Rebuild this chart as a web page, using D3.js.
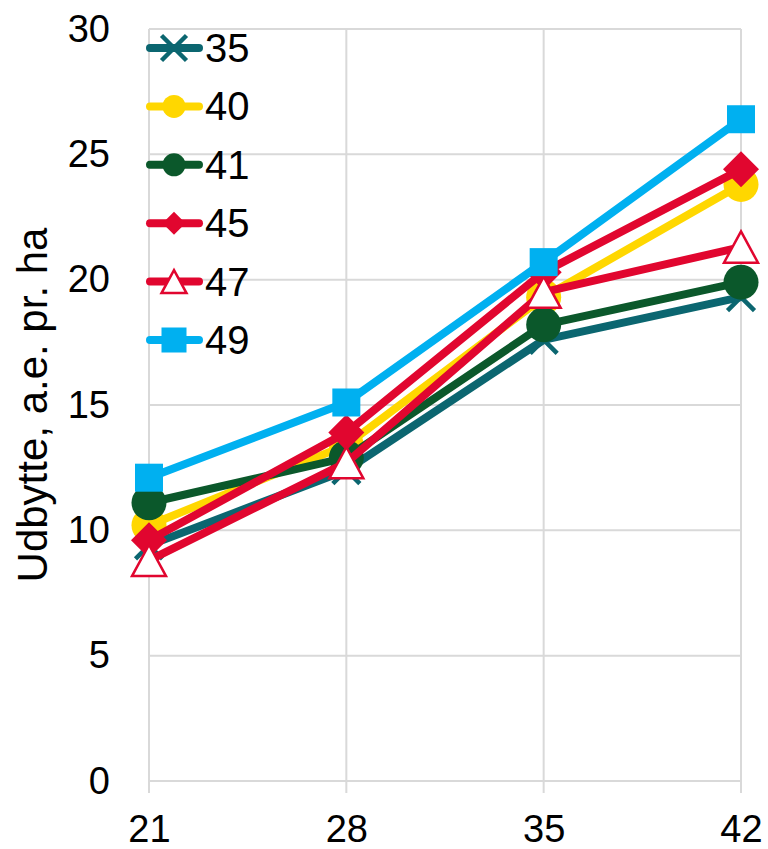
<!DOCTYPE html>
<html>
<head>
<meta charset="utf-8">
<script src="https://cdn.jsdelivr.net/npm/d3@7"></script>
<style>
  html, body { margin: 0; padding: 0; background: #fff; }
  svg text { font-family: "Liberation Sans", Arial, sans-serif; fill: #000; }
</style>
</head>
<body>
<div id="chart"></div>
<script>
// uger (x) og udbytte pr. serie
var weeks = [21, 28, 35, 42]
var yTicks = [0, 5, 10, 15, 20, 25, 30]
var seriesNames = ['35', '40', '41', '45', '47', '49']
var s35 = [9.4, 12.4, 17.6, 19.3]
var s40 = [10.2, 13.4, 19.3, 23.8]
var s41 = [11.1, 12.9, 18.2, 19.9]
var s45 = [9.6, 13.9, 20.3, 24.4]
var s47 = [8.8, 12.7, 19.5, 21.3]
var s49 = [12.1, 15.1, 20.7, 26.4]
var yTitle = 'Udbytte, a.e. pr. ha'

var width = 768, height = 849
var margin = {top: 29, left: 149, right: 27, bottom: 68}
var lineWidth = 8

var styles = [
  {color: '#0b6670', marker: 'x', size: 27, legendSize: 25},
  {color: '#ffd700', marker: 'circle', size: 35, legendSize: 23},
  {color: '#0b582b', marker: 'circle', size: 35, legendSize: 23},
  {color: '#e1062f', marker: 'diamond', size: 36, legendSize: 23},
  {color: '#e1062f', marker: 'triangle', size: 34, legendSize: 25},
  {color: '#00b0f0', marker: 'square', size: 28, legendSize: 25}
]
var values = [s35, s40, s41, s45, s47, s49]
var series = seriesNames.map((n, k) => ({
  name: n,
  style: styles[k],
  points: weeks.map((w, i) => ({x: w, y: values[k][i]}))
}))

var svg = d3.select('#chart').append('svg').attr('width', width).attr('height', height)

var x = d3.scaleLinear().domain([21, 42]).range([margin.left, width - margin.right])
var y = d3.scaleLinear().domain([0, 30]).range([height - margin.bottom, margin.top])

// gitterlinjer
var grid = svg.append('g').attr('stroke', '#d9d9d9').attr('stroke-width', 2)
grid.selectAll('line.h').data(yTicks).enter().append('line')
  .attr('x1', x(21)).attr('x2', x(42))
  .attr('y1', d => y(d)).attr('y2', d => y(d))
grid.selectAll('line.v').data(weeks).enter().append('line')
  .attr('x1', d => x(d)).attr('x2', d => x(d))
  .attr('y1', y(30)).attr('y2', y(0) + 12)

// akser (kun tekst)
var yAxis = svg.append('g').attr('transform', 'translate(' + x(21) + ',0)')
  .call(d3.axisLeft(y).tickValues(yTicks).tickSize(0).tickPadding(39))
var xAxis = svg.append('g').attr('transform', 'translate(0,' + y(0) + ')')
  .call(d3.axisBottom(x).tickValues(weeks).tickSize(0).tickPadding(34))
svg.selectAll('.domain').remove()
svg.selectAll('.tick text').attr('font-size', 38).attr('font-family', '"Liberation Sans", Arial, sans-serif').attr('fill', '#000')

svg.append('text')
  .attr('transform', 'translate(32,405) rotate(-90)')
  .attr('text-anchor', 'middle')
  .attr('dominant-baseline', 'central')
  .attr('font-size', 42)
  .text(yTitle)

function drawMarker(g, type, size, color) {
  var h = size / 2
  if (type === 'circle') {
    g.append('circle').attr('r', h).attr('fill', color)
  } else if (type === 'square') {
    g.append('rect').attr('x', -h).attr('y', -h).attr('width', size).attr('height', size).attr('fill', color)
  } else if (type === 'diamond') {
    g.append('path').attr('d', 'M0,' + (-h) + 'L' + h + ',0L0,' + h + 'L' + (-h) + ',0Z').attr('fill', color)
  } else if (type === 'triangle') {
    var th = size * 0.92
    g.append('path')
      .attr('d', 'M0,' + (-th / 2) + 'L' + h + ',' + (th / 2) + 'L' + (-h) + ',' + (th / 2) + 'Z')
      .attr('fill', '#fff').attr('stroke', color).attr('stroke-width', 2.5)
  } else if (type === 'x') {
    g.append('path')
      .attr('d', 'M' + (-h) + ',' + (-h) + 'L' + h + ',' + h + 'M' + h + ',' + (-h) + 'L' + (-h) + ',' + h)
      .attr('stroke', color).attr('stroke-width', 4.5).attr('fill', 'none')
  }
}

var line = d3.line().x(d => x(d.x)).y(d => y(d.y))

// serier tegnes i rækkefølge, linje + markører
series.forEach(s => {
  var g = svg.append('g').classed('series', true)
  g.append('path')
    .attr('d', line(s.points))
    .attr('fill', 'none')
    .attr('stroke', s.style.color)
    .attr('stroke-width', lineWidth)
    .attr('stroke-linejoin', 'round')
    .attr('stroke-linecap', 'round')
  g.selectAll('g.pt').data(s.points).enter().append('g')
    .classed('pt', true)
    .attr('transform', d => 'translate(' + x(d.x) + ',' + y(d.y) + ')')
    .each(function () { drawMarker(d3.select(this), s.style.marker, s.style.size, s.style.color) })
})

// forklaring
var legend = svg.append('g')
series.forEach((s, k) => {
  var ly = 48 + k * 58.4
  var item = legend.append('g').attr('transform', 'translate(0,' + ly + ')')
  item.append('line')
    .attr('x1', 150).attr('x2', 199)
    .attr('stroke', s.style.color).attr('stroke-width', lineWidth).attr('stroke-linecap', 'round')
  var m = item.append('g').attr('transform', 'translate(174,0)')
  drawMarker(m, s.style.marker, s.style.legendSize, s.style.color)
  item.append('text')
    .attr('x', 205).attr('y', 0)
    .attr('dominant-baseline', 'central')
    .attr('font-size', 40)
    .text(s.name)
})
</script>
</body>
</html>
